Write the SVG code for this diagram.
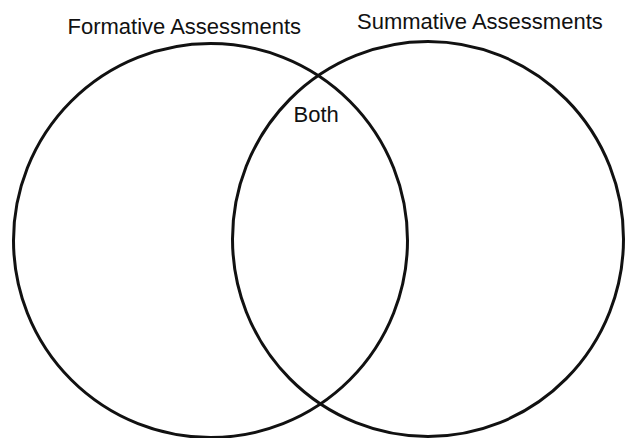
<svg xmlns="http://www.w3.org/2000/svg" width="626" height="438" viewBox="0 0 626 438">
<style>
.set{fill:none;stroke:#111;stroke-width:3}
.lbl{font-family:"Liberation Sans",Arial,sans-serif;font-size:22px;fill:#111}
</style>
<rect width="626" height="438" fill="#fff"/>
<g id="formative">
<circle class="set" cx="210.5" cy="240.5" r="197"/>
<text class="lbl" x="67.5" y="34">Formative Assessments</text>
</g>
<g id="summative">
<ellipse class="set" cx="428" cy="239" rx="195.5" ry="197.5"/>
<text class="lbl" x="357" y="28.5">Summative Assessments</text>
</g>
<g id="both">
<text class="lbl" x="293.5" y="121.7">Both</text>
</g>
<g id="connectors"></g>
</svg>
